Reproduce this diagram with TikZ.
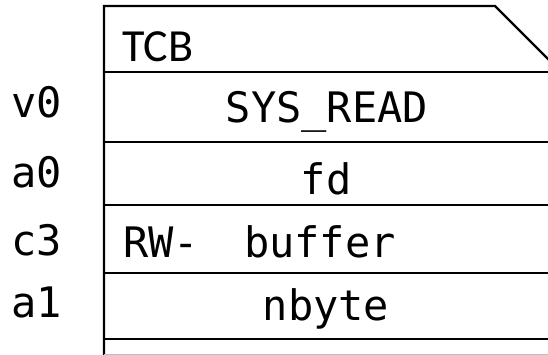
\documentclass[tikz,border=0pt]{standalone}
\usepackage{fontspec}
\setmonofont{DejaVu Sans Mono}
\newfontfamily\titlefont{Carlito}
\usetikzlibrary{positioning}

\begin{document}
\begin{tikzpicture}[
    x=1pt, y=-1pt,
    outline/.style={draw, line width=2.4pt},
    field/.style={anchor=base, inner sep=0pt, font=\ttfamily\fontsize{42}{42}\selectfont},
    reglabel/.style={field, anchor=base west},
    tcbtitle/.style={anchor=base west, inner sep=0pt, font=\titlefont\fontsize{46}{46}\selectfont}
]
\useasboundingbox (0,0) rectangle (548,355);

% Outline of the block
\draw[outline] (104,356) -- (104,6) -- (495,6) -- (550,61);
\foreach \y in {72,142,205,273,339}
  \draw[outline] (104,\y) -- (548,\y);
\draw[line width=1pt, black!25] (104,354) -- (548,354);

% Title
\node[tcbtitle] (tcb) at (122,62) {TCB};

% Fields
\node[field] (sysread) at (327,123) {SYS\_READ};
\node[field] (fd) at (326,195) {fd};
\node[reglabel] (rw) at (123,257) {RW-};
\node[field] (buffer) at (320,257) {buffer};
\node[field] (nbyte) at (326,320) {nbyte};

% Register names
\node[reglabel] (v0) at (11,118) {v0};
\node[reglabel] (a0) at (11,188) {a0};
\node[reglabel] (c3) at (11,255) {c3};
\node[reglabel] (a1) at (11,317) {a1};

\end{tikzpicture}
\end{document}
